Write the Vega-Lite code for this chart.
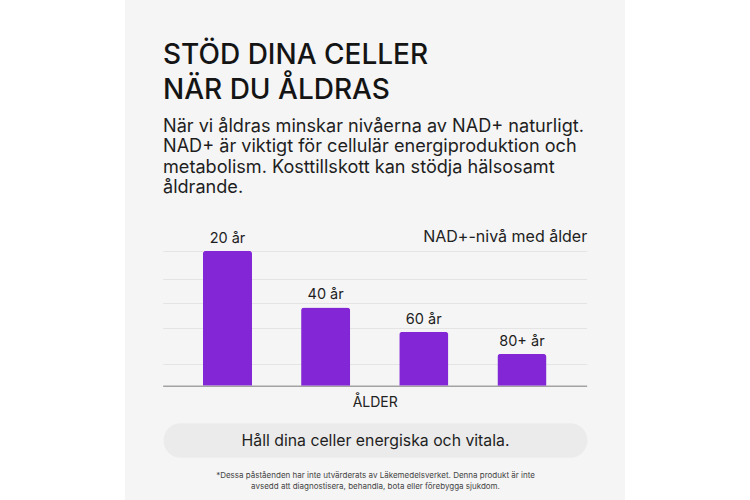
{
  "$schema": "https://vega.github.io/schema/vega-lite/v6.json",
  "width": 500,
  "height": 500,
  "autosize": {"type": "none"},
  "padding": {"left": 125, "right": 125, "top": 0, "bottom": 0},
  "background": "#ffffff",
  "config": {
    "font": "Inter",
    "view": {"fill": "#f5f5f5", "stroke": null}
  },
  "title": {
    "text": ["STÖD DINA CELLER", "NÄR DU ÅLDRAS"],
    "subtitle": [
      "När vi åldras minskar nivåerna av NAD+ naturligt.",
      "NAD+ är viktigt för cellulär energiproduktion och",
      "metabolism. Kosttillskott kan stödja hälsosamt",
      "åldrande."
    ],
    "anchor": "start",
    "frame": "group",
    "orient": "top",
    "offset": -197.5,
    "dx": 38,
    "font": "Inter",
    "fontSize": 28,
    "fontWeight": 500,
    "color": "#141414",
    "lineHeight": 35,
    "subtitleFont": "Inter",
    "subtitleFontSize": 18.1,
    "subtitleColor": "#1e1e1e",
    "subtitleLineHeight": 20.5,
    "subtitlePadding": 13
  },
  "data": {
    "values": [
      {"alder": "20 år", "niva": 100},
      {"alder": "40 år", "niva": 58},
      {"alder": "60 år", "niva": 40},
      {"alder": "80+ år", "niva": 23.5}
    ]
  },
  "encoding": {
    "x": {
      "field": "alder",
      "type": "nominal",
      "sort": null,
      "scale": {"range": [37.7, 461.7], "paddingInner": 0.5, "paddingOuter": 0.41}
    },
    "y": {
      "field": "niva",
      "type": "quantitative",
      "scale": {"domain": [0, 110], "range": [385.7, 237.2], "nice": false, "zero": true}
    }
  },
  "layer": [
    {
      "mark": {"type": "bar", "color": "#8226d6", "cornerRadiusTopLeft": 3, "cornerRadiusTopRight": 3},
      "encoding": {
        "x": {
          "field": "alder",
          "type": "nominal",
          "sort": null,
          "axis": {
            "orient": "bottom",
            "offset": -114.3,
            "domain": true,
            "domainColor": "#a3a3a3",
            "domainWidth": 1.5,
            "ticks": false,
            "labels": false,
            "grid": false,
            "title": "ÅLDER",
            "titleFont": "Inter",
            "titleFontSize": 14,
            "titleFontWeight": "normal",
            "titleColor": "#222222",
            "titlePadding": 10
          }
        },
        "y": {
          "field": "niva",
          "type": "quantitative",
          "axis": {
            "orient": "left",
            "values": [16, 42.5, 61.5, 79, 100],
            "domain": false,
            "ticks": false,
            "labels": false,
            "grid": true,
            "gridColor": "#e4e4e4",
            "gridWidth": 1,
            "title": "NAD+-nivå med ålder",
            "titleAngle": 0,
            "titleX": 461.7,
            "titleY": 241.7,
            "titleAlign": "right",
            "titleBaseline": "alphabetic",
            "titleFont": "Inter",
            "titleFontSize": 16,
            "titleFontWeight": "normal",
            "titleColor": "#222222"
          }
        }
      }
    },
    {
      "mark": {"type": "text", "baseline": "alphabetic", "dy": -8, "fontSize": 14.5, "color": "#1e1e1e", "font": "Inter"},
      "encoding": {
        "text": {"field": "alder", "type": "nominal"},
        "x": {
          "field": "alder",
          "type": "nominal",
          "sort": null,
          "axis": {
            "orient": "top",
            "domain": false,
            "ticks": false,
            "labels": false,
            "grid": false,
            "title": [
              "*Dessa påståenden har inte utvärderats av Läkemedelsverket. Denna produkt är inte",
              "avsedd att diagnostisera, behandla, bota eller förebygga sjukdom."
            ],
            "titleX": 250,
            "titleY": 477.5,
            "titleAlign": "center",
            "titleAnchor": "middle",
            "titleBaseline": "alphabetic",
            "titleFont": "Inter",
            "titleFontSize": 8,
            "titleFontWeight": "normal",
            "titleColor": "#444444",
            "titleLineHeight": 10.5
          }
        },
        "y": {
          "field": "niva",
          "type": "quantitative",
          "axis": {
            "orient": "right",
            "values": [0],
            "offset": -444.75,
            "position": 54,
            "domain": false,
            "labels": false,
            "grid": false,
            "ticks": true,
            "tickSize": 389.5,
            "tickWidth": 34.5,
            "tickCap": "round",
            "tickColor": "#ebebeb",
            "title": "Håll dina celler energiska och vitala.",
            "titleAngle": 0,
            "titleX": 194.75,
            "titleY": 391.5,
            "titleAlign": "center",
            "titleBaseline": "alphabetic",
            "titleFont": "Inter",
            "titleFontSize": 15.8,
            "titleFontWeight": "normal",
            "titleColor": "#1e1e1e"
          }
        }
      }
    }
  ],
  "resolve": {"axis": {"x": "independent", "y": "independent"}}
}
